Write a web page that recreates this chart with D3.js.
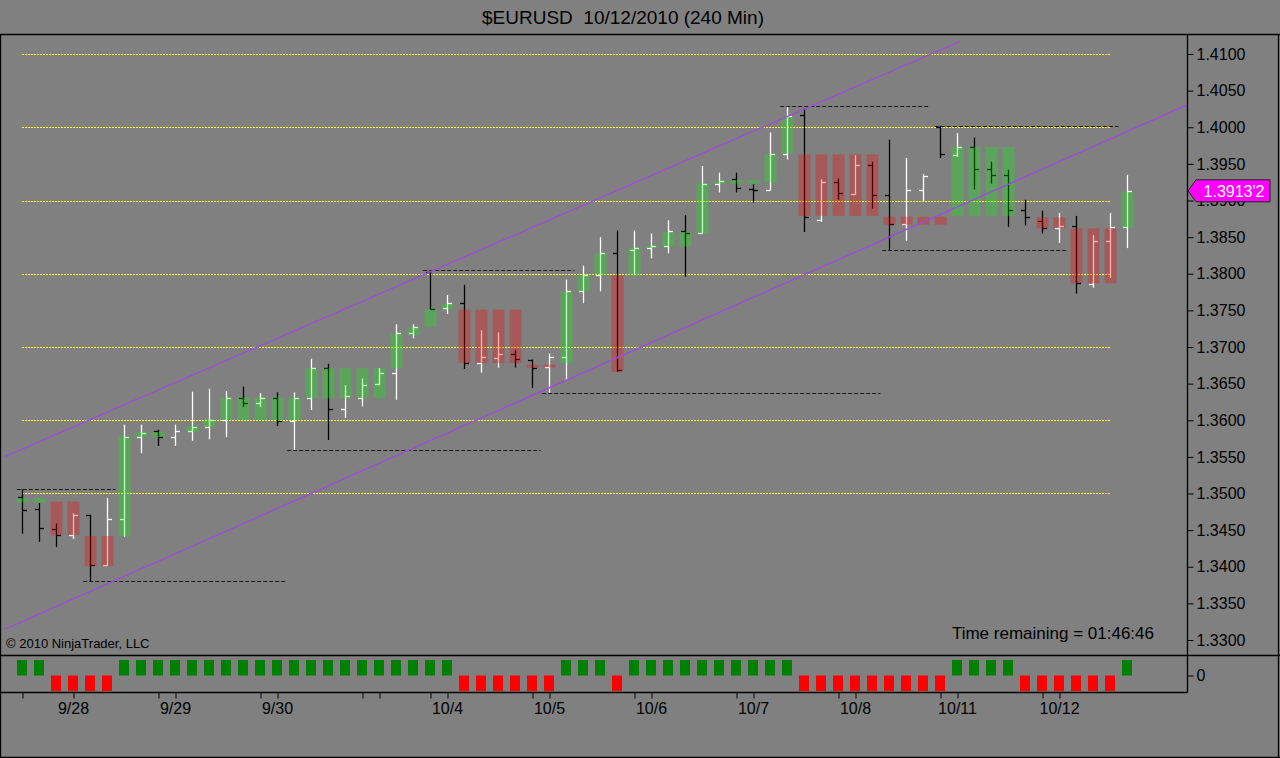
<!DOCTYPE html>
<html>
<head>
<meta charset="utf-8">
<title>$EURUSD 10/12/2010 (240 Min)</title>
<script src="https://cdn.jsdelivr.net/npm/d3@7"></script>
<style>
    body { margin: 0; background: #808080; }
    svg text { font-family: Arial, "Liberation Sans", sans-serif; }
</style>
</head>
<body>
<div id="chart"></div>
<script>
// 240 min bars, one entry per bar (index 0 = first bar on the left)
var opens  = [1.3495,1.3479,1.3451,1.3443,1.3470,1.3402,1.3465,1.3577,1.3585,1.3577,
              1.3585,1.3591,1.3601,1.3631,1.3624,1.3631,1.3599,1.3630,1.3672,1.3616,
              1.3631,1.3649,1.3664,1.3719,1.3803,1.3753,1.3760,1.3678,1.3685,1.3690,
              1.3682,1.3673,1.3686,1.3776,1.3798,1.3828,1.3833,1.3835,1.3838,1.3858,
              1.3855,1.3923,1.3930,1.3916,1.3915,1.3963,1.4017,1.3873,1.3925,1.3909,
              1.3948,1.3908,1.3868,1.3915,1.4001,1.3962,1.3973,1.3943,1.3935,1.3887,
              1.3872,1.3862,1.3865,1.3786,1.3845,1.3864];
var highs  = [1.3506,1.3487,1.3459,1.3473,1.3471,1.3494,1.3594,1.3594,1.3587,1.3594,
              1.3639,1.3643,1.3640,1.3646,1.3637,1.3638,1.3638,1.3684,1.3677,1.3648,
              1.3657,1.3671,1.3731,1.3731,1.3805,1.3771,1.3785,1.3723,1.3720,1.3696,
              1.3683,1.3691,1.3792,1.3811,1.3850,1.3859,1.3859,1.3855,1.3873,1.3880,
              1.3947,1.3938,1.3938,1.3922,1.3993,1.4028,1.4026,1.3929,1.3930,1.3962,
              1.3953,1.3983,1.3958,1.3936,1.4002,1.3992,1.3986,1.3953,1.3942,1.3901,
              1.3886,1.3883,1.3879,1.3853,1.3883,1.3935];
var lows   = [1.3445,1.3434,1.3427,1.3438,1.3380,1.3401,1.3441,1.3555,1.3565,1.3565,
              1.3572,1.3574,1.3577,1.3618,1.3618,1.3592,1.3558,1.3614,1.3573,1.3603,
              1.3619,1.3648,1.3628,1.3712,1.3751,1.3745,1.3670,1.3665,1.3672,1.3672,
              1.3644,1.3637,1.3654,1.3760,1.3776,1.3666,1.3798,1.3821,1.3828,1.3796,
              1.3855,1.3911,1.3911,1.3897,1.3914,1.3956,1.3857,1.3871,1.3901,1.3908,
              1.3889,1.3832,1.3845,1.3898,1.3958,1.3960,1.3915,1.3923,1.3864,1.3866,
              1.3855,1.3842,1.3773,1.3781,1.3794,1.3835];
var closes = [1.3478,1.3453,1.3443,1.3470,1.3402,1.3465,1.3577,1.3583,1.3577,1.3585,
              1.3591,1.3601,1.3631,1.3624,1.3631,1.3599,1.3631,1.3672,1.3616,1.3633,
              1.3648,1.3664,1.3719,1.3727,1.3752,1.3760,1.3678,1.3686,1.3690,1.3683,
              1.3672,1.3686,1.3776,1.3798,1.3828,1.3668,1.3835,1.3838,1.3858,1.3856,
              1.3923,1.3927,1.3917,1.3915,1.3964,1.4016,1.3878,1.3925,1.3910,1.3948,
              1.3908,1.3868,1.3915,1.3933,1.3963,1.3973,1.3943,1.3935,1.3887,1.3877,
              1.3862,1.3865,1.3787,1.3845,1.3864,1.39132];

// box indicator (top / bottom of each block) and its direction, also shown in the lower panel
var boxTop    = [1.3494,1.3494,1.3489,1.3489,1.3442,1.3442,1.3578,1.3584,1.3584,1.3585,
                 1.3592,1.3601,1.3631,1.3631,1.3631,1.3631,1.3631,1.3671,1.3671,1.3671,
                 1.3671,1.3671,1.3718,1.3727,1.3752,1.3759,1.3751,1.3751,1.3751,1.3751,
                 1.3676,1.3676,1.3776,1.3798,1.3828,1.3798,1.3835,1.3838,1.3857,1.3857,
                 1.3923,1.3927,1.3928,1.3928,1.3963,1.4014,1.3963,1.3963,1.3963,1.3963,
                 1.3963,1.3878,1.3878,1.3878,1.3878,1.3973,1.3973,1.3973,1.3973,1.3877,
                 1.3877,1.3877,1.3862,1.3862,1.3862,1.3912];
var boxBottom = [1.3488,1.3488,1.3443,1.3443,1.3401,1.3401,1.3442,1.3577,1.3577,1.3585,
                 1.3584,1.3591,1.3600,1.3600,1.3600,1.3600,1.3600,1.3630,1.3630,1.3630,
                 1.3630,1.3630,1.3671,1.3716,1.3728,1.3752,1.3678,1.3678,1.3678,1.3678,
                 1.3672,1.3672,1.3678,1.3776,1.3798,1.3666,1.3798,1.3835,1.3837,1.3837,
                 1.3855,1.3923,1.3923,1.3923,1.3925,1.3964,1.3879,1.3879,1.3879,1.3879,
                 1.3879,1.3867,1.3867,1.3867,1.3867,1.3879,1.3879,1.3879,1.3879,1.3877,
                 1.3862,1.3862,1.3787,1.3787,1.3787,1.3863];
var trend = [1,1,-1,-1,-1,-1,1,1,1,1, 1,1,1,1,1,1,1,1,1,1,
             1,1,1,1,1,1,-1,-1,-1,-1, -1,-1,1,1,1,-1,1,1,1,1,
             1,1,1,1,1,1,-1,-1,-1,-1, -1,-1,-1,-1,-1,1,1,1,1,-1,
             -1,-1,-1,-1,-1,1];

// round levels (yellow dotted)
var levels = [1.35, 1.36, 1.37, 1.38, 1.39, 1.40, 1.41];

// swing high / low lines (black dashed): start bar, end bar, price
var swingStart = [-0.3, 3.6, 15.6, 23.6, 30.6, 44.6, 53.7, 50.6];
var swingEnd   = [5.5, 15.5, 30.5, 32.5, 50.5, 53.4, 64.5, 61.5];
var swingPrice = [1.3506, 1.3380, 1.3559, 1.3805, 1.3637, 1.4029, 1.4002, 1.3832];

// regression channel (purple): [bar, price] end points
var channelUpper = [[-1, 1.35502], [55.18, 1.41173]];
var channelLower = [[-1, 1.33147], [68.53, 1.40304]];

// axis ticks
var priceTicks = d3.range(0, 17).map(function (k) { return 1.33 + k * 0.005; });
var dateTickBars = [0, 3, 8, 9, 14, 15, 20, 21, 24, 25, 30, 31, 36, 37, 42, 43, 48, 49, 54, 55, 60, 61];
var dateLabelBars = [3, 9, 15, 25, 31, 37, 43, 49, 55, 61];
var dateLabels = ["9/28", "9/29", "9/30", "10/4", "10/5", "10/6", "10/7", "10/8", "10/11", "10/12"];

var lastPrice = "1.3913'2";

var width = 1280, height = 758;
var plot = {left: 1, right: 1187, top: 35, bottom: 655};

var x = d3.scaleLinear().domain([0, 65]).range([22, 1127]);
var y = d3.scaleLinear().domain([1.33, 1.41]).range([640, 54]);
var yInd = d3.scaleLinear().domain([-1, 1]).range([691, 660]);

var svg = d3.select("#chart")
    .append("svg")
    .attr("width", width)
    .attr("height", height);

svg.append("rect")
    .attr("width", width).attr("height", height)
    .attr("fill", "#808080");

// title
svg.append("text")
    .attr("x", 623).attr("y", 24)
    .attr("text-anchor", "middle")
    .attr("font-size", 19)
    .attr("fill", "#000")
    .style("white-space", "pre")
    .text("$EURUSD  10/12/2010 (240 Min)");

svg.append("clipPath").attr("id", "plotClip")
    .append("rect")
    .attr("x", plot.left).attr("y", plot.top)
    .attr("width", plot.right - plot.left).attr("height", plot.bottom - plot.top);

var main = svg.append("g").attr("clip-path", "url(#plotClip)");

// yellow levels
main.selectAll(".level")
    .data(levels)
    .enter().append("line")
    .attr("x1", x(0)).attr("x2", x(64))
    .attr("y1", function (d) { return Math.round(y(d)) + 0.5; })
    .attr("y2", function (d) { return Math.round(y(d)) + 0.5; })
    .attr("stroke", "#ffff00")
    .attr("stroke-width", 1)
    .attr("stroke-dasharray", "2,1")
    .attr("shape-rendering", "crispEdges");

// OHLC bars
var idx = d3.range(opens.length);
var bar = main.selectAll(".bar")
    .data(idx)
    .enter().append("g")
    .attr("stroke", function (i) { return closes[i] >= opens[i] ? "#ffffff" : "#000000"; })
    .attr("stroke-width", 1.3);

bar.append("line")
    .attr("x1", function (i) { return Math.round(x(i)) + 0.5; })
    .attr("x2", function (i) { return Math.round(x(i)) + 0.5; })
    .attr("y1", function (i) { return y(highs[i]); })
    .attr("y2", function (i) { return y(lows[i]); });
bar.append("line")
    .attr("x1", function (i) { return Math.round(x(i)) - 4; })
    .attr("x2", function (i) { return Math.round(x(i)) + 0.5; })
    .attr("y1", function (i) { return Math.round(y(opens[i])) + 0.5; })
    .attr("y2", function (i) { return Math.round(y(opens[i])) + 0.5; });
bar.append("line")
    .attr("x1", function (i) { return Math.round(x(i)) + 0.5; })
    .attr("x2", function (i) { return Math.round(x(i)) + 5; })
    .attr("y1", function (i) { return Math.round(y(closes[i])) + 0.5; })
    .attr("y2", function (i) { return Math.round(y(closes[i])) + 0.5; });

// translucent boxes on top of the bars
main.selectAll(".box")
    .data(idx)
    .enter().append("rect")
    .attr("x", function (i) { return Math.round(x(i)) - 5.5; })
    .attr("width", 12)
    .attr("y", function (i) { return y(boxTop[i]); })
    .attr("height", function (i) { return Math.max(0, y(boxBottom[i]) - y(boxTop[i])); })
    .attr("fill", function (i) { return trend[i] > 0 ? "#00ff00" : "#ff0000"; })
    .attr("fill-opacity", function (i) { return trend[i] > 0 ? 0.28 : 0.3; });

// swing lines
main.selectAll(".swing")
    .data(swingPrice)
    .enter().append("line")
    .attr("x1", function (d, k) { return x(swingStart[k]); })
    .attr("x2", function (d, k) { return x(swingEnd[k]); })
    .attr("y1", function (d) { return Math.round(y(d)) + 0.5; })
    .attr("y2", function (d) { return Math.round(y(d)) + 0.5; })
    .attr("stroke", "#1a1a1a")
    .attr("stroke-width", 1)
    .attr("stroke-dasharray", "4,2");

// channel
var line = d3.line()
    .x(function (d) { return x(d[0]); })
    .y(function (d) { return y(d[1]); });
main.selectAll(".channel")
    .data([channelUpper, channelLower])
    .enter().append("path")
    .attr("d", line)
    .attr("fill", "none")
    .attr("stroke", "#9a4fd6")
    .attr("stroke-width", 1.4);

// copyright and timer
svg.append("text")
    .attr("x", 6).attr("y", 648)
    .attr("font-size", 13)
    .attr("fill", "#000")
    .text("\u00a9 2010 NinjaTrader, LLC");
svg.append("text")
    .attr("x", 1154).attr("y", 639)
    .attr("text-anchor", "end")
    .attr("font-size", 17)
    .attr("fill", "#000")
    .text("Time remaining = 01:46:46");

// lower panel squares
svg.selectAll(".ind")
    .data(idx)
    .enter().append("rect")
    .attr("x", function (i) { return Math.round(x(i)) - 5; })
    .attr("width", 10)
    .attr("y", function (i) { return trend[i] > 0 ? yInd(trend[i]) : yInd(0); })
    .attr("height", function (i) { return Math.abs(yInd(trend[i]) - yInd(0)); })
    .attr("fill", function (i) { return trend[i] > 0 ? "#008000" : "#ff0000"; });

// frame lines
var frame = svg.append("g").attr("stroke", "#000").attr("stroke-width", 1.3).attr("fill", "none");
frame.append("line").attr("x1", 0).attr("x2", width).attr("y1", 34.5).attr("y2", 34.5);
frame.append("line").attr("x1", 0).attr("x2", width).attr("y1", 655.5).attr("y2", 655.5);
frame.append("line").attr("x1", 0).attr("x2", 1187.5).attr("y1", 692.5).attr("y2", 692.5);
frame.append("line").attr("x1", 1187.5).attr("x2", 1187.5).attr("y1", 34.5).attr("y2", 692.5);
frame.append("line").attr("x1", 0.5).attr("x2", 0.5).attr("y1", 34.5).attr("y2", height);
frame.append("line").attr("x1", 1278.5).attr("x2", 1278.5).attr("y1", 34.5).attr("y2", height);
frame.append("line").attr("x1", 0).attr("x2", width).attr("y1", 757.5).attr("y2", 757.5);

// Y axis
var yAxis = svg.append("g")
    .attr("transform", "translate(1187.5,0)")
    .call(d3.axisRight(y).tickValues(priceTicks).tickSize(6).tickPadding(3)
        .tickFormat(d3.format(".4f")));
yAxis.select(".domain").remove();
yAxis.selectAll("text").attr("font-size", 16).attr("fill", "#000")
    .attr("font-family", "Arial, 'Liberation Sans', sans-serif");
yAxis.selectAll("line").attr("stroke", "#000");

var indAxis = svg.append("g")
    .attr("transform", "translate(1187.5,0)")
    .call(d3.axisRight(yInd).tickValues([0]).tickSize(6).tickPadding(3)
        .tickFormat(d3.format("d")));
indAxis.select(".domain").remove();
indAxis.selectAll("text").attr("font-size", 16).attr("fill", "#000")
    .attr("font-family", "Arial, 'Liberation Sans', sans-serif");
indAxis.selectAll("line").attr("stroke", "#000");

// X axis
var xAxis = svg.append("g")
    .attr("transform", "translate(0,692.5)")
    .call(d3.axisBottom(x).tickValues(dateTickBars).tickSize(6).tickPadding(4)
        .tickFormat(function (b) {
            var k = dateLabelBars.indexOf(b);
            return k < 0 ? "" : dateLabels[k];
        }));
xAxis.select(".domain").remove();
xAxis.selectAll("text").attr("font-size", 16).attr("fill", "#000")
    .attr("font-family", "Arial, 'Liberation Sans', sans-serif");
xAxis.selectAll("line").attr("stroke", "#000")
    .attr("transform", "translate(0.5,0)");

// last price marker (covers the 1.3900 label, as in the original)
var py = y(closes[closes.length - 1]);
svg.append("path")
    .attr("d", "M1188," + py + "L1196," + (py - 11) + "H1270V" + (py + 11) + "H1196Z")
    .attr("fill", "#ff00ff")
    .attr("stroke", "#202020")
    .attr("stroke-width", 1);
svg.append("text")
    .attr("x", 1234).attr("y", py + 6)
    .attr("text-anchor", "middle")
    .attr("font-size", 16)
    .attr("fill", "#fff")
    .text(lastPrice);
</script>
</body>
</html>
